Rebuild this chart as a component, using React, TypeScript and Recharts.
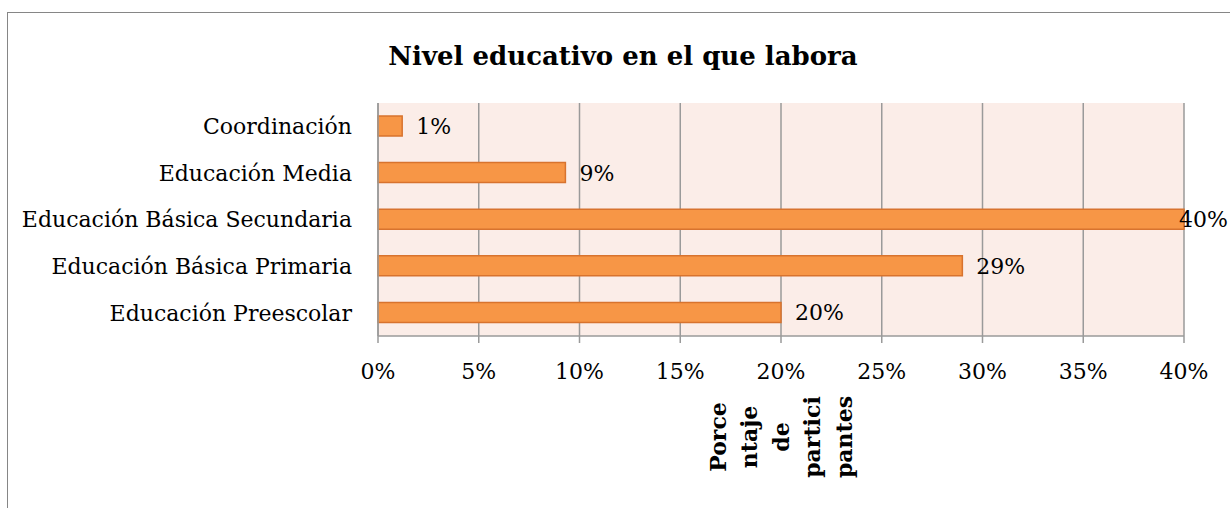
import React from 'react';
import { BarChart, Bar, XAxis, YAxis, CartesianGrid, LabelList } from 'recharts';

const CATEGORIES = [
  'Coordinación',
  'Educación Media',
  'Educación Básica Secundaria',
  'Educación Básica Primaria',
  'Educación Preescolar',
];
const PERCENTS = [1.2, 9.3, 40, 29, 20];
const X_TICKS = [0, 5, 10, 15, 20, 25, 30, 35, 40];
const AXIS_TITLE_LINES = ['Porce', 'ntaje', 'de', 'partici', 'pantes'];
const TITLE = 'Nivel educativo en el que labora';

const data = CATEGORIES.map((name, i) => ({ name, value: PERCENTS[i] }));

const FONT = '"DejaVu Serif", serif';

const ValueLabel = (props: any) => {
  const { x, y, width, height, value } = props;
  const tx = Math.min(x + width + 14, 1179);
  return (
    <text x={tx} y={y + height / 2} dy="0.36em" fill="#000" fontSize={22} fontFamily={FONT}>
      {Math.round(value)}%
    </text>
  );
};

const AxisTitle = (props: any) => {
  const vb = props.viewBox || {};
  const cx = vb.x + vb.width / 2;
  const cy = 437;
  const step = 31.5;
  const start = cx - (step * (AXIS_TITLE_LINES.length - 1)) / 2;
  return (
    <g>
      {AXIS_TITLE_LINES.map((line, i) => (
        <text
          key={line}
          x={start + i * step}
          y={cy}
          transform={`rotate(-90 ${start + i * step} ${cy})`}
          textAnchor="middle"
          dy="0.36em"
          fontFamily={FONT}
          fontWeight="bold"
          fontSize={22}
          fill="#000"
        >
          {line}
        </text>
      ))}
    </g>
  );
};

const App: React.FC = () => {
  return (
    <div style={{ position: 'absolute', left: 0, top: 0, width: 1230, height: 508, background: '#fff', overflow: 'hidden' }}>
      <div
        style={{
          position: 'absolute',
          left: 7,
          top: 12,
          width: 1240,
          height: 520,
          borderLeft: '1.5px solid #868686',
          borderTop: '1.5px solid #868686',
        }}
      />
      <div
        style={{
          position: 'absolute',
          left: 0,
          top: 40,
          width: 1246,
          textAlign: 'center',
          fontFamily: FONT,
          fontWeight: 'bold',
          fontSize: 26,
          lineHeight: '32px',
          color: '#000',
        }}
      >
        {TITLE}
      </div>
      <div style={{ position: 'absolute', left: 0, top: 0 }}>
        <BarChart
          width={1230}
          height={508}
          data={data}
          layout="vertical"
          margin={{ top: 103, right: 46, left: 0, bottom: 132 }}
          barCategoryGap={0}
        >
          <CartesianGrid horizontal={false} stroke="#9a9a9a" strokeWidth={1.5} fill="#FBEDE8" fillOpacity={1} />
          <XAxis
            type="number"
            domain={[0, 40]}
            ticks={X_TICKS}
            tickFormatter={(v: number) => `${v}%`}
            height={40}
            stroke="#9a9a9a"
            strokeWidth={1.5}
            tickSize={7}
            tickMargin={20}
            tick={{ fill: '#000', fontSize: 22, fontFamily: FONT }}
            interval={0}
            label={{ content: AxisTitle }}
          />
          <YAxis
            type="category"
            dataKey="name"
            width={378}
            stroke="#9a9a9a"
            strokeWidth={1.5}
            tickLine={false}
            tickMargin={20}
            tick={{ fill: '#000', fontSize: 22, fontFamily: FONT }}
            interval={0}
          />
          <Bar
            dataKey="value"
            barSize={20}
            fill="#F79646"
            stroke="#D8732E"
            strokeWidth={1.5}
            isAnimationActive={false}
          >
            <LabelList dataKey="value" content={ValueLabel} />
          </Bar>
        </BarChart>
      </div>
    </div>
  );
};

export default App;
